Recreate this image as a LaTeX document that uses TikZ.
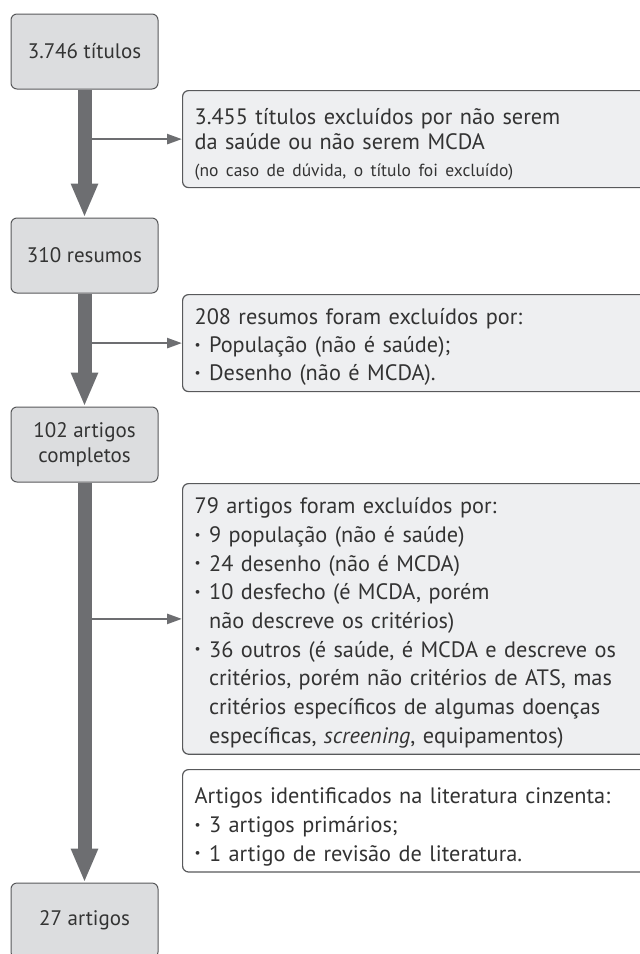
\documentclass[tikz,border=0pt]{standalone}
\usepackage{fontspec}
\usepackage{graphicx}
\setmainfont{PT Sans}
\usetikzlibrary{arrows.meta}
\definecolor{boxgray}{HTML}{DCDDDF}
\definecolor{notegray}{HTML}{EEEFF1}
\definecolor{edgegray}{HTML}{58595B}
\definecolor{flowgray}{HTML}{6D6E71}
\definecolor{txtgray}{HTML}{333333}
\tikzset{
  stage/.style={draw=edgegray,fill=boxgray,rounded corners=6pt,line width=1pt,minimum width=147pt,minimum height=75pt,align=center,text=txtgray,font=\fontsize{21}{25}\selectfont},
  excl/.style={draw=edgegray,fill=notegray,rounded corners=6pt,line width=1.2pt,anchor=north west,minimum width=480pt,text width=456pt,inner xsep=11pt,inner ysep=6pt,align=left,text=txtgray,font=\fontsize{22.3}{28.7}\selectfont},
  flow/.style={draw=flowgray,line width=14pt,-{Triangle[length=34pt,width=25pt]}},
  side/.style={draw=flowgray,line width=2.5pt,-{Triangle[length=15pt,width=10pt]}}
}
\newcommand{\bul}{\makebox[14.5pt][l]{\raisebox{0.28ex}{\scalebox{0.6}{\textbullet}}}}
\newcommand{\ind}{\hspace*{14.5pt}}
\newcommand{\topgap}[1]{\rule{0pt}{#1}}
\newcommand{\botgap}{\rule[-5pt]{0pt}{5pt}}

\begin{document}
\begin{tikzpicture}[x=1pt,y=-1pt]
\useasboundingbox (0,0) rectangle (640,954);
\clip (0,0) rectangle (640,954);
\node[stage] (t1) at (84.5,51.5) {3.746 títulos};
\node[stage] (t2) at (84.5,255.5) {310 resumos};
\node[stage] (t3) at (84.5,444.5) {102 artigos\\completos};
\node[stage] (t4) at (84.5,920.5) {27 artigos};
\node[excl,minimum height=97pt,font=\fontsize{22.3}{25}\selectfont] (x1) at (182,90) {\topgap{27pt}3.455 títulos excluídos por não serem\\da saúde ou não serem MCDA\\[2pt]{\fontsize{17.5}{25}\selectfont (no caso de dúvida, o título foi excluído)}\botgap};
\node[excl,minimum height=96pt,font=\fontsize{22.3}{28}\selectfont] (x2) at (182,294) {\topgap{24pt}208 resumos foram excluídos por:\\\bul População (não é saúde);\\\bul Desenho (não é MCDA).\botgap};
\node[excl,minimum height=270pt] (x3) at (182,483) {\topgap{24pt}79 artigos foram excluídos por:\\
\bul 9 população (não é saúde)\\
\bul 24 desenho (não é MCDA)\\
\bul 10 desfecho (é MCDA, porém\\
\ind não descreve os critérios)\\
\bul 36 outros (é saúde, é MCDA e descreve os\\
\ind critérios, porém não critérios de ATS, mas\\
\ind critérios específicos de algumas doenças\\
\ind específicas, \textit{screening}, equipamentos)\botgap};
\node[excl,fill=white,minimum height=98pt] (x4) at (182,769) {\topgap{28pt}Artigos identificados na literatura cinzenta:\\\bul 3 artigos primários;\\\bul 1 artigo de revisão de literatura.\botgap};
\draw[side] (t1.south |- x1.west) -- (x1.west);
\draw[side] (t2.south |- x2.west) -- (x2.west);
\draw[side] (t3.south |- x3.west) -- (x3.west);
\draw[flow] (t1) -- (t2);
\draw[flow] (t2) -- (t3);
\draw[flow] (t3) -- (t4);
\end{tikzpicture}
\end{document}
